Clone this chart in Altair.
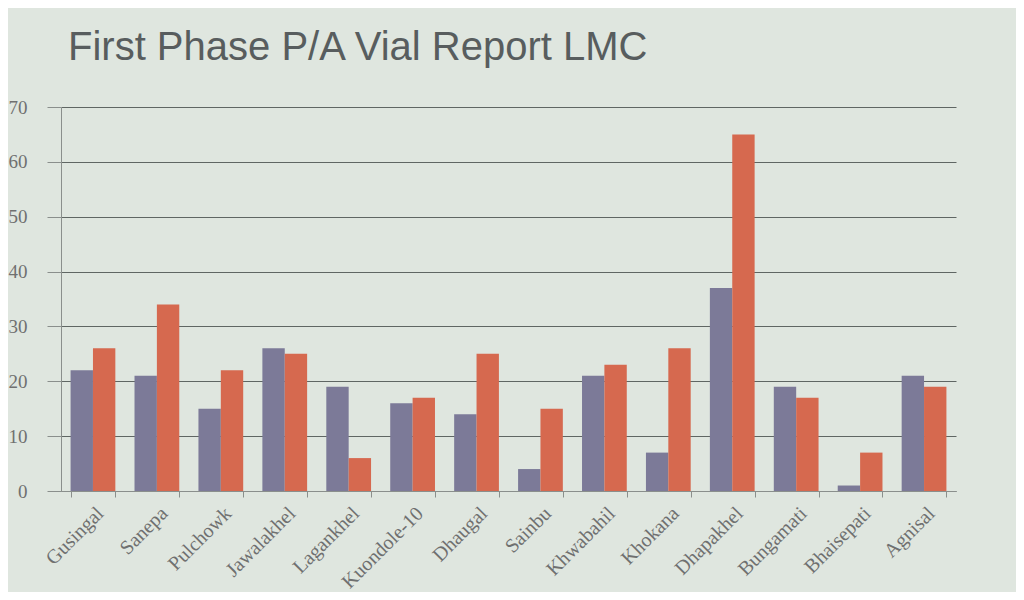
import altair as alt
import pandas as pd

places = ["Gusingal", "Sanepa", "Pulchowk", "Jawalakhel", "Lagankhel", "Kuondole-10",
          "Dhaugal", "Sainbu", "Khwabahil", "Khokana", "Dhapakhel", "Bungamati",
          "Bhaisepati", "Agnisal"]
series_a = [22, 21, 15, 26, 19, 16, 14, 4, 21, 7, 37, 19, 1, 21]
series_b = [26, 34, 22, 25, 6, 17, 25, 15, 23, 26, 65, 17, 7, 19]
series_names = ["Series 1", "Series 2"]
y_ticks = [0, 10, 20, 30, 40, 50, 60, 70]

rows = []
for p, a, b in zip(places, series_a, series_b):
    rows.append({"place": p, "series": series_names[0], "value": a})
    rows.append({"place": p, "series": series_names[1], "value": b})
df = pd.DataFrame(rows)

chart = alt.Chart(df).mark_bar().encode(
    x=alt.X("place:N", sort=places, title=None,
            scale=alt.Scale(paddingInner=0.3, paddingOuter=0.15),
            axis=alt.Axis(labelAngle=-45, labelFont="Liberation Serif", labelFontSize=20,
                          labelColor="#6f7070", domainColor="#8a8f8c", tickColor="#8a8f8c",
                          tickBand="extent", tickSize=6, labelPadding=6)),
    xOffset=alt.XOffset("series:N", sort=series_names),
    y=alt.Y("value:Q", title=None,
            scale=alt.Scale(domain=[0, 70]),
            axis=alt.Axis(values=y_ticks, labelFont="Liberation Serif", labelFontSize=19,
                          labelColor="#6f7070", grid=True, gridColor="#5f6663",
                          gridWidth=1, domainColor="#8a8f8c", tickColor="#8a8f8c",
                          tickSize=14, labelPadding=20)),
    color=alt.Color("series:N", sort=series_names,
                    scale=alt.Scale(domain=series_names, range=["#7c7a98", "#d6694f"]),
                    legend=None),
).properties(
    width=1008, height=584,
    autosize=alt.AutoSizeParams(type="fit", contains="padding"),
    background="#dfe6df",
    padding={"left": 0, "right": 60, "top": 20, "bottom": 0},
    title=alt.TitleParams("First Phase P/A Vial Report LMC", anchor="start",
                          font="Liberation Sans", fontSize=40, fontWeight="normal",
                          color="#585d5e", offset=30, dx=60),
).configure_view(stroke=None)

chart.save("out.html", embed_options={"renderer": "svg", "actions": False})
